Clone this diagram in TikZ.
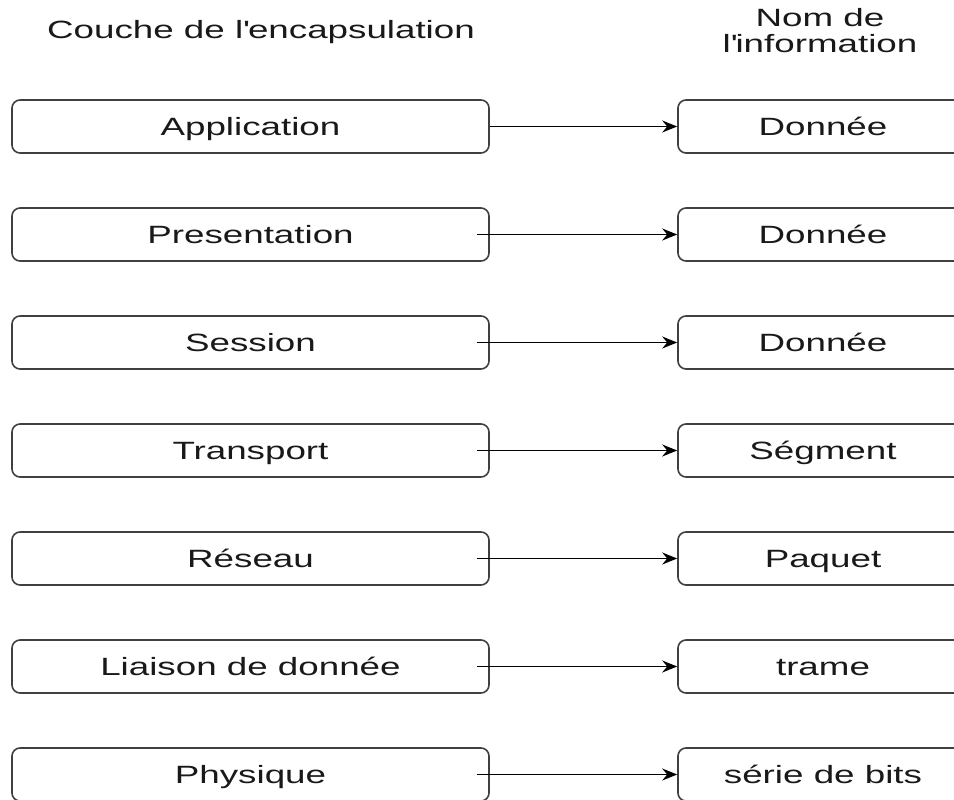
\documentclass[tikz,border=0pt]{standalone}
\usepackage{fontspec}
\setmainfont{Liberation Sans}[FakeStretch=1.47]
\usetikzlibrary{arrows.meta}
\begin{document}
\begin{tikzpicture}[x=1pt,y=-1pt,
  every node/.style={font=\fontsize{25}{26}\selectfont, text=black!90},
  layerbox/.style={draw=black!75, line width=1.6pt, rounded corners=8pt,
    minimum height=53pt, inner sep=0pt, text height=18pt, text depth=0pt},
  leftbox/.style={layerbox, minimum width=477pt},
  rightbox/.style={layerbox, minimum width=290pt},
  link/.style={draw=black, line width=1.4pt, -{Stealth[length=15pt,width=12pt,inset=5pt]}},
  heading/.style={inner sep=0pt, align=center}]
\useasboundingbox (0,0) rectangle (954,800);
\clip (0,0) rectangle (954,800);

% column headings
\node[heading, anchor=base] (hleft) at (261,39) {Couche de l\textquotesingle encapsulation};
\node[heading, anchor=base] (hright) at (820,53) {Nom de\\l\textquotesingle information};

% layers and the name of the data unit at each one
\foreach \i/\layer/\unit in {0/Application/Donnée, 1/Presentation/Donnée,
    2/Session/Donnée, 3/Transport/Ségment, 4/Réseau/Paquet,
    5/Liaison de donnée/trame, 6/Physique/série de bits} {
  \node[leftbox]  (l\i) at (250.5, 126.5+108*\i) {\layer};
  \node[rightbox] (r\i) at (823, 126.5+108*\i) {\unit};
}

% arrows from each layer to its data unit
\draw[link] (l0.east) -- (r0.west);
\foreach \i in {1,...,6} {
  \draw[link] ([xshift=-13pt]l\i.east) -- (r\i.west);
}
\end{tikzpicture}
\end{document}
